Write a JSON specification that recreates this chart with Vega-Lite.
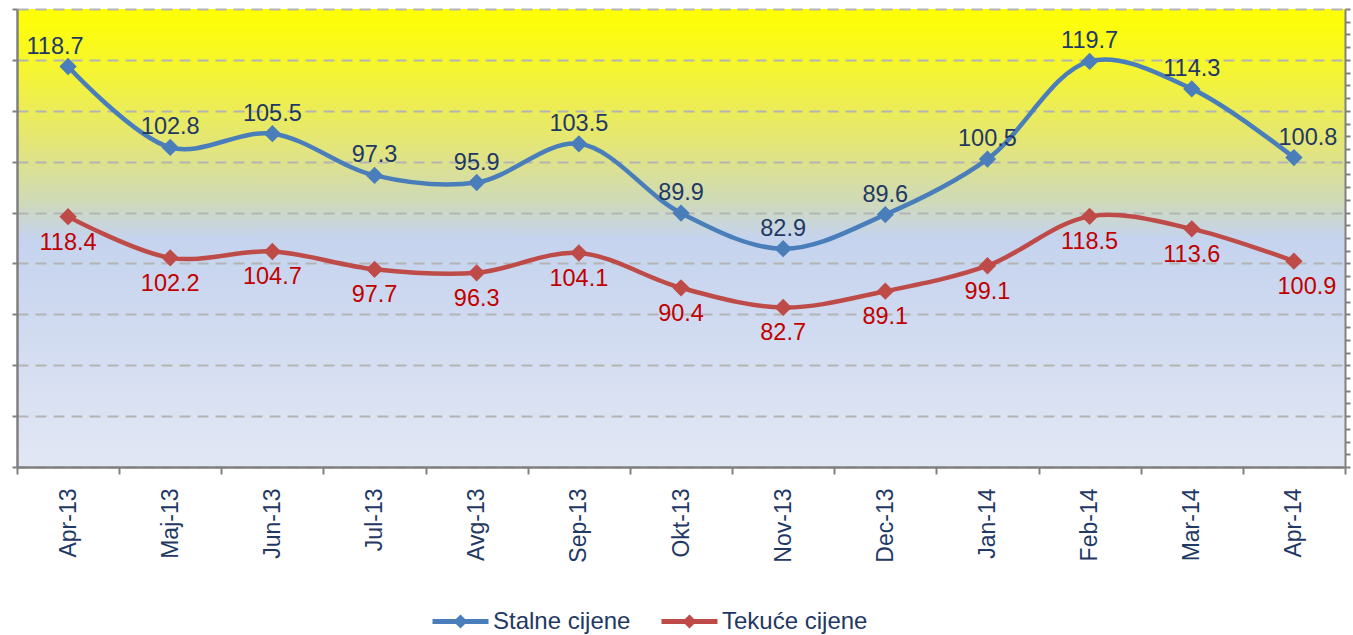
{
  "$schema": "https://vega.github.io/schema/vega-lite/v6.json",
  "width": 1328,
  "height": 458,
  "autosize": {"type": "none"},
  "padding": {"left": 17, "top": 9, "right": 8, "bottom": 168},
  "background": "white",
  "config": {
    "view": {
      "stroke": null,
      "fill": {
        "gradient": "linear", "x1": 0, "y1": 0, "x2": 0, "y2": 1,
        "stops": [
          {"offset": 0, "color": "#FFFF00"},
          {"offset": 0.12, "color": "#F6F62C"},
          {"offset": 0.3, "color": "#E3E57A"},
          {"offset": 0.42, "color": "#CFDAB8"},
          {"offset": 0.5, "color": "#C5D3EE"},
          {"offset": 1, "color": "#E2E7F4"}
        ]
      }
    },
    "font": "Liberation Sans"
  },
  "data": {
    "values": [
      {"month": "Apr-13", "series": "Stalne cijene", "value": 118.7},
      {"month": "Maj-13", "series": "Stalne cijene", "value": 102.8},
      {"month": "Jun-13", "series": "Stalne cijene", "value": 105.5},
      {"month": "Jul-13", "series": "Stalne cijene", "value": 97.3},
      {"month": "Avg-13", "series": "Stalne cijene", "value": 95.9},
      {"month": "Sep-13", "series": "Stalne cijene", "value": 103.5},
      {"month": "Okt-13", "series": "Stalne cijene", "value": 89.9},
      {"month": "Nov-13", "series": "Stalne cijene", "value": 82.9},
      {"month": "Dec-13", "series": "Stalne cijene", "value": 89.6},
      {"month": "Jan-14", "series": "Stalne cijene", "value": 100.5},
      {"month": "Feb-14", "series": "Stalne cijene", "value": 119.7},
      {"month": "Mar-14", "series": "Stalne cijene", "value": 114.3},
      {"month": "Apr-14", "series": "Stalne cijene", "value": 100.8},
      {"month": "Apr-13", "series": "Tekuće cijene", "value": 118.4},
      {"month": "Maj-13", "series": "Tekuće cijene", "value": 102.2},
      {"month": "Jun-13", "series": "Tekuće cijene", "value": 104.7},
      {"month": "Jul-13", "series": "Tekuće cijene", "value": 97.7},
      {"month": "Avg-13", "series": "Tekuće cijene", "value": 96.3},
      {"month": "Sep-13", "series": "Tekuće cijene", "value": 104.1},
      {"month": "Okt-13", "series": "Tekuće cijene", "value": 90.4},
      {"month": "Nov-13", "series": "Tekuće cijene", "value": 82.7},
      {"month": "Dec-13", "series": "Tekuće cijene", "value": 89.1},
      {"month": "Jan-14", "series": "Tekuće cijene", "value": 99.1},
      {"month": "Feb-14", "series": "Tekuće cijene", "value": 118.5},
      {"month": "Mar-14", "series": "Tekuće cijene", "value": 113.6},
      {"month": "Apr-14", "series": "Tekuće cijene", "value": 100.9}
    ]
  },
  "encoding": {
    "x": {
      "field": "month", "type": "ordinal", "sort": null, "title": null,
      "scale": {"type": "band", "paddingInner": 0, "paddingOuter": 0},
      "axis": {
        "labelAngle": -90, "tickBand": "extent", "tickSize": 7, "tickColor": "#808080", "tickWidth": 2,
        "domainColor": "#808080", "domainWidth": 2.5, "labelPadding": 14,
        "labelFont": "Liberation Sans", "labelFontSize": 23, "labelColor": "#1F3864", "grid": false
      }
    }
  },
  "layer": [
    {
      "transform": [{"filter": "datum.series === 'Stalne cijene'"}],
      "encoding": {
        "y": {
          "field": "value", "type": "quantitative", "title": null,
          "scale": {"domain": [40, 130], "nice": false, "zero": false},
          "axis": {
            "orient": "left", "labels": false, "values": [40, 50, 60, 70, 80, 90, 100, 110, 120, 130],
            "tickSize": 5, "tickColor": "#808080", "tickWidth": 2, "domainColor": "#808080", "domainWidth": 2.5,
            "grid": true, "gridColor": "#B4B4B4", "gridDash": [11, 7], "gridWidth": 2
          }
        }
      },
      "layer": [
        {
          "mark": {"type": "line", "interpolate": "catmull-rom", "strokeWidth": 4.5},
          "encoding": {
            "color": {
              "field": "series", "type": "nominal", "title": null,
              "scale": {"domain": ["Stalne cijene", "Tekuće cijene"], "range": ["#4A7EBB", "#BE4B48"]},
              "legend": {
                "orient": "none", "legendX": 427, "legendY": 596, "direction": "horizontal",
                "symbolType": "M-2,0 L2,0 M0,-0.25 L0.25,0 L0,0.25 L-0.25,0 Z",
                "symbolSize": 784, "symbolStrokeWidth": 5, "labelOffset": 16, "columnPadding": 20,
                "labelFont": "Liberation Sans", "labelFontSize": 24, "labelColor": "#1F3864", "padding": 0
              }
            }
          }
        },
        {
          "mark": {"type": "point", "shape": "diamond", "filled": true, "opacity": 1, "size": 300, "color": "#4A7EBB"}
        },
        {
          "transform": [{"filter": "datum.month !== 'Apr-13' && datum.month !== 'Apr-14'"}],
          "mark": {"type": "text", "dy": -20, "fontSize": 23.5, "color": "#1F3864", "font": "Liberation Sans"},
          "encoding": {"text": {"field": "value", "type": "quantitative", "format": ".1f"}}
        },
        {
          "transform": [{"filter": "datum.month === 'Apr-13'"}],
          "mark": {"type": "text", "dy": -20, "dx": -13, "fontSize": 23.5, "color": "#1F3864", "font": "Liberation Sans"},
          "encoding": {"text": {"field": "value", "type": "quantitative", "format": ".1f"}}
        },
        {
          "transform": [{"filter": "datum.month === 'Apr-14'"}],
          "mark": {"type": "text", "dy": -20, "dx": 14, "fontSize": 23.5, "color": "#1F3864", "font": "Liberation Sans"},
          "encoding": {"text": {"field": "value", "type": "quantitative", "format": ".1f"}}
        }
      ]
    },
    {
      "transform": [{"filter": "datum.series === 'Tekuće cijene'"}],
      "encoding": {
        "y": {
          "field": "value", "type": "quantitative", "title": null,
          "scale": {"domain": [20, 200], "nice": false, "zero": false},
          "axis": {
            "orient": "right", "labels": false,
            "values": [20, 25, 30, 35, 40, 45, 50, 55, 60, 65, 70, 75, 80, 85, 90, 95, 100, 105, 110, 115, 120, 125, 130, 135, 140, 145, 150, 155, 160, 165, 170, 175, 180, 185, 190, 195, 200],
            "tickSize": 5, "tickColor": "#808080", "tickWidth": 2, "domainColor": "#808080", "domainWidth": 2, "grid": false
          }
        }
      },
      "layer": [
        {
          "mark": {"type": "line", "interpolate": "catmull-rom", "strokeWidth": 4.5},
          "encoding": {
            "color": {"field": "series", "type": "nominal", "title": null}
          }
        },
        {
          "mark": {"type": "point", "shape": "diamond", "filled": true, "opacity": 1, "size": 300, "color": "#BE4B48"}
        },
        {
          "transform": [{"filter": "datum.month !== 'Apr-14'"}],
          "mark": {"type": "text", "dy": 26, "fontSize": 23.5, "color": "#C00000", "font": "Liberation Sans"},
          "encoding": {"text": {"field": "value", "type": "quantitative", "format": ".1f"}}
        },
        {
          "transform": [{"filter": "datum.month === 'Apr-14'"}],
          "mark": {"type": "text", "dy": 26, "dx": 13, "fontSize": 23.5, "color": "#C00000", "font": "Liberation Sans"},
          "encoding": {"text": {"field": "value", "type": "quantitative", "format": ".1f"}}
        }
      ]
    }
  ],
  "resolve": {"scale": {"y": "independent"}}
}
